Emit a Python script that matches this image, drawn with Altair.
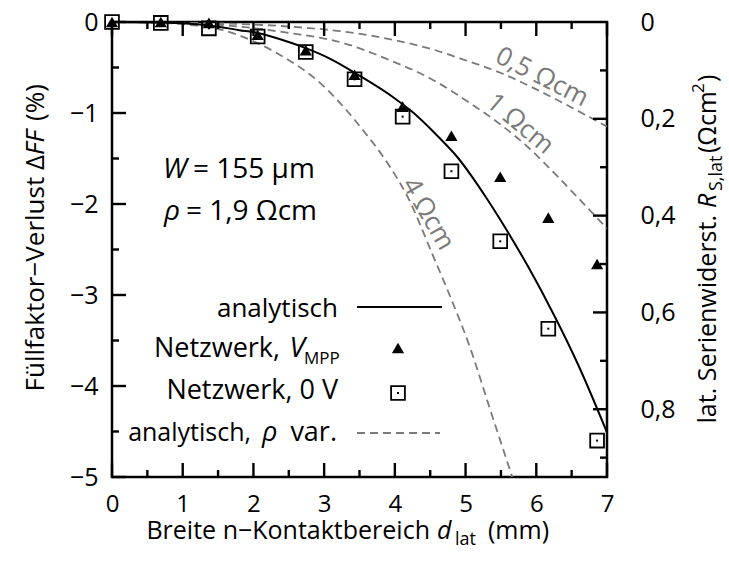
import altair as alt
import pandas as pd

FONT = "Open Sans"
OX, OY = 112, 22          # top-left corner of the plot frame on the page
W, H = 495, 455           # plot frame size in px

# Network simulation, d_lat (mm) vs. fill-factor loss (%)
d_net = [0, 0.69, 1.37, 2.06, 2.74, 3.43, 4.11, 4.80, 5.49, 6.17, 6.86]
ff_mpp = [0, 0, -0.01, -0.14, -0.31, -0.58, -0.93, -1.25, -1.70, -2.15, -2.66]
ff_0v = [0, -0.01, -0.07, -0.16, -0.33, -0.63, -1.04, -1.64, -2.41, -3.37, -4.60]

# Analytic model, rho = 1.9 Ohm cm
d_ana = [0, 0.7, 1.1, 1.4, 1.8, 2.06, 2.5, 2.75, 3.1, 3.5, 4.0, 4.25, 4.6, 4.9,
         5.1, 5.3, 5.6, 5.9, 6.25, 6.6, 7.0]
ff_ana = [0, -0.005, -0.02, -0.04, -0.09, -0.12, -0.22, -0.29, -0.41, -0.59,
          -0.84, -0.99, -1.25, -1.50, -1.71, -1.94, -2.31, -2.71, -3.22, -3.78, -4.51]

# Analytic model for other base resistivities
d_r05 = [0, 1.5, 2.5, 3.22, 4.0, 4.53, 4.96, 5.5, 6.0, 6.5, 7.0]
ff_r05 = [0, -0.015, -0.05, -0.10, -0.20, -0.30, -0.41, -0.56, -0.74, -0.94, -1.15]
d_r1 = [0, 0.7, 1.5, 2.5, 3.22, 3.93, 4.5, 5.06, 5.5, 5.86, 6.28, 6.6, 7.0]
ff_r1 = [0, -0.005, -0.03, -0.12, -0.22, -0.42, -0.62, -0.89, -1.13, -1.36, -1.68, -1.94, -2.27]
d_r4 = [0, 0.7, 1.2, 1.57, 2.05, 2.5, 2.9, 3.19, 3.55, 3.93, 4.18, 4.53, 4.8, 5.06, 5.34, 5.66]
ff_r4 = [0, -0.01, -0.04, -0.09, -0.23, -0.42, -0.64, -0.86, -1.19, -1.59, -1.92,
         -2.55, -3.05, -3.57, -4.24, -5.0]

# Axis ticks
x_major = [0, 1, 2, 3, 4, 5, 6, 7]
x_minor = [0.5, 1.5, 2.5, 3.5, 4.5, 5.5, 6.5]
y_major = [-5, -4, -3, -2, -1, 0]
y_minor = [-4.5, -3.5, -2.5, -1.5, -0.5]
rs_labels = [0, 0.2, 0.4, 0.6, 0.8]
rs_major = [0.2, 0.4, 0.6, 0.8]
rs_minor = [0.1, 0.3, 0.5, 0.7, 0.9]

GREY = "#7a7a7a"
MAJOR, MINOR, TICKW = 14, 7, 2.4

XS = alt.Scale(domain=[0, 7], nice=False, zero=False)
YS = alt.Scale(domain=[-5, 0], nice=False, zero=False)
RS = alt.Scale(domain=[0, 0.94], nice=False, zero=False, reverse=True)

XAX = alt.Axis(values=x_major, format="d", ticks=False, tickSize=0, domain=False,
               grid=False, labelFont=FONT, labelFontSize=24, labelColor="black",
               labelPadding=15, labelFlush=False, labelOverlap=False, orient="bottom")
YAX = alt.Axis(values=y_major, ticks=False, tickSize=0, domain=False, grid=False,
               labelExpr="replace(format(datum.value, 'd'), '-', '\u2212')",
               labelFont=FONT, labelFontSize=25, labelColor="black",
               labelPadding=14, labelFlush=False, labelOverlap=False, orient="left")
RAX = alt.Axis(values=rs_labels, ticks=False, tickSize=0, domain=False, grid=False,
               labelExpr="datum.value == 0 ? '0' : replace(format(datum.value, '.1f'), '.', ',')",
               labelFont=FONT, labelFontSize=25, labelColor="black",
               labelPadding=33, labelFlush=False, labelOverlap=False, orient="right")


def X(field="d"):
    return alt.X(f"{field}:Q", scale=XS, axis=XAX, title=None)


def Y(field="ff"):
    return alt.Y(f"{field}:Q", scale=YS, axis=YAX, title=None)


one = pd.DataFrame({"k": [0]})


def txt(text, x, y, size=25, align="left", baseline="alphabetic", angle=0,
        italic=False, color="black"):
    return alt.Chart(one).mark_text(
        text=text, align=align, baseline=baseline, angle=angle, font=FONT,
        fontSize=size, fontStyle="italic" if italic else "normal", color=color
    ).encode(x=alt.value(x - OX), y=alt.value(y - OY))


# --- curves -------------------------------------------------------------
var_df = pd.concat([
    pd.DataFrame({"d": d_r05, "ff": ff_r05, "rho": "0,5"}),
    pd.DataFrame({"d": d_r1, "ff": ff_r1, "rho": "1"}),
    pd.DataFrame({"d": d_r4, "ff": ff_r4, "rho": "4"}),
])
dashed = alt.Chart(var_df).mark_line(
    color=GREY, strokeDash=[8, 5], strokeWidth=1.8, interpolate="monotone", clip=True
).encode(x=X(), y=Y(), detail="rho:N")

ana = alt.Chart(pd.DataFrame({"d": d_ana, "ff": ff_ana})).mark_line(
    color="black", strokeWidth=2, interpolate="monotone", clip=True
).encode(x=X(), y=Y())

net_df = pd.DataFrame({"d": d_net, "mpp": ff_mpp, "v0": ff_0v})
squares = alt.Chart(net_df).mark_point(
    shape="square", size=190, filled=False, color="black", strokeWidth=1.8, opacity=1
).encode(x=X(), y=Y("v0"))
dots = alt.Chart(net_df).mark_point(
    shape="square", size=4, filled=True, color="black", opacity=1
).encode(x=X(), y=Y("v0"))
tris = alt.Chart(net_df).mark_point(
    shape="triangle-up", size=150, filled=True, color="black", opacity=1
).encode(x=X(), y=Y("mpp"))


# --- inward ticks on all four sides ------------------------------------------
def xticks(values, length, top):
    y0 = 0 if top else H
    y1 = length if top else H - length
    return alt.Chart(pd.DataFrame({"d": values})).mark_rule(
        color="black", strokeWidth=TICKW
    ).encode(x=X(), y=alt.value(y0), y2=alt.value(y1))


def yticks(values, length):
    return alt.Chart(pd.DataFrame({"ff": values})).mark_rule(
        color="black", strokeWidth=TICKW
    ).encode(y=Y(), x=alt.value(0), x2=alt.value(length))


def rticks(values, length):
    return alt.Chart(pd.DataFrame({"rs": values})).mark_rule(
        color="black", strokeWidth=TICKW
    ).encode(y=alt.Y("rs:Q", scale=RS, axis=RAX, title=None),
             x=alt.value(W), x2=alt.value(W - length))


ticks = [
    xticks(x_major, MAJOR, False), xticks(x_minor, MINOR, False),
    xticks(x_major, MAJOR, True), xticks(x_minor, MINOR, True),
    yticks(y_major, MAJOR), yticks(y_minor, MINOR),
]

# --- curve labels -------------------------------------------------------------
curve_labels = [
    txt("0,5 \u03a9cm", 542, 77, size=26, align="center", baseline="middle", angle=27, color=GREY),
    txt("1 \u03a9cm", 520, 124, size=26, align="center", baseline="middle", angle=40, color=GREY),
    txt("4 \u03a9cm", 428, 214, size=26, align="center", baseline="middle", angle=60, color=GREY),
]

# --- parameters -------------------------------------------------------------
params = [
    txt("W", 163, 178, size=28, italic=True),
    txt("= 155 \u00b5m", 193, 178, size=28),
    txt("\u03c1", 164, 220, size=28, italic=True),
    txt("= 1,9 \u03a9cm", 186, 220, size=28),
]

# --- legend -------------------------------------------------------------
LX1, LX2, LXM = 357, 442, 398
legend = [
    txt("analytisch", 338, 317, size=26, align="right"),
    alt.Chart(one).mark_rule(color="black", strokeWidth=2).encode(
        x=alt.value(LX1 - OX), x2=alt.value(LX2 - OX), y=alt.value(307 - OY)),
    txt("Netzwerk,", 280, 357, size=27, align="right"),
    txt("V", 305, 357, size=28, align="right", italic=True),
    txt("MPP", 304, 364, size=17),
    alt.Chart(one).mark_point(shape="triangle-up", size=150, filled=True,
                              color="black", opacity=1).encode(
        x=alt.value(LXM - OX), y=alt.value(348 - OY)),
    txt("Netzwerk, 0 V", 338, 399, size=27, align="right"),
    alt.Chart(one).mark_point(shape="square", size=190, filled=False, color="black",
                              strokeWidth=1.8, opacity=1).encode(
        x=alt.value(LXM - OX), y=alt.value(393 - OY)),
    alt.Chart(one).mark_point(shape="square", size=4, filled=True, color="black",
                              opacity=1).encode(
        x=alt.value(LXM - OX), y=alt.value(393 - OY)),
    txt("analytisch,", 251, 441, size=25, align="right"),
    txt("\u03c1", 262, 441, size=27, italic=True),
    txt("var.", 337, 441, size=27, align="right"),
    alt.Chart(one).mark_rule(color=GREY, strokeWidth=1.8, strokeDash=[8, 5]).encode(
        x=alt.value(LX1 - OX), x2=alt.value(440 - OX), y=alt.value(433 - OY)),
]

# --- axis titles -------------------------------------------------------------
titles = [
    # bottom
    txt("Breite n\u2212Kontaktbereich", 430, 539, align="right"),
    txt("d", 437, 539, italic=True),
    txt("lat", 455, 545, size=18),
    txt("(mm)", 488, 539),
    # left, reading upwards
    txt("F\u00fcllfaktor\u2212Verlust \u0394", 44, 155, size=26, angle=270, align="right"),
    txt("FF", 44, 155, size=26, angle=270, italic=True),
    txt("(%)", 44, 121, size=26, angle=270),
    # right, reading upwards
    txt("lat. Serienwiderst.", 716, 215, angle=270, align="right"),
    txt("R", 716, 208, angle=270, italic=True),
    txt("S,lat", 722, 191, size=18, angle=270),
    txt("(\u03a9cm", 716, 153, angle=270),
    txt("2", 704, 93, size=17, angle=270),
    txt(")", 716, 82, angle=270),
]

main = alt.layer(dashed, ana, squares, dots, tris, *ticks, *curve_labels,
                 *params, *legend, *titles)
right = alt.layer(rticks(rs_major, MAJOR), rticks(rs_minor, MINOR))

chart = alt.layer(main, right).resolve_scale(y="independent").properties(
    width=W, height=H,
    padding={"left": OX, "top": OY, "right": 729 - OX - W, "bottom": 567 - OY - H},
    autosize=alt.AutoSizeParams(type="none"),
    background="white",
).configure_view(stroke="black", strokeWidth=2.5)

chart.save("out.html", embed_options={"renderer": "svg", "actions": False})
